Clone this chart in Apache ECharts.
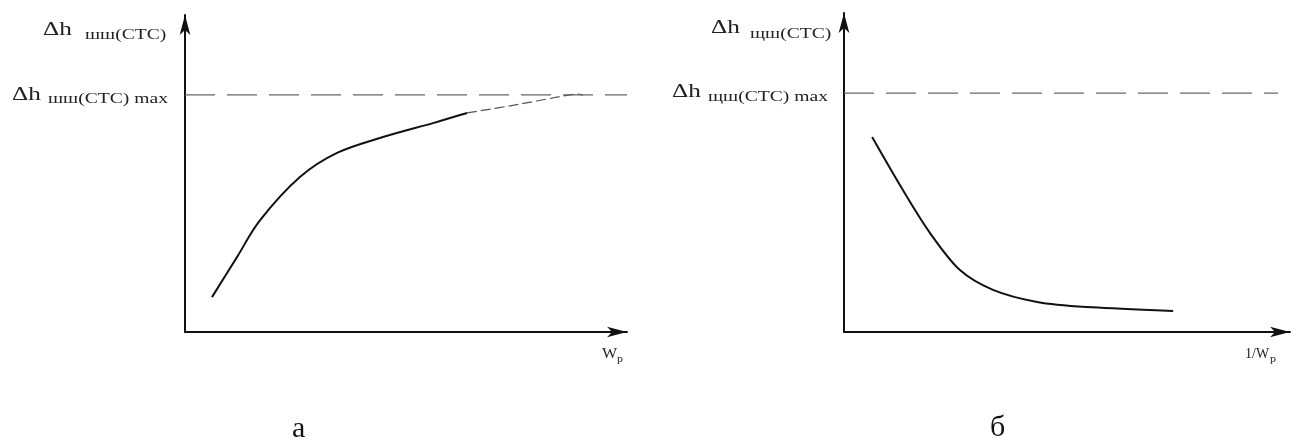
<!DOCTYPE html>
<html><head><meta charset="utf-8">
<script src="https://cdn.jsdelivr.net/npm/echarts@6/dist/echarts.min.js"></script>
<style>html,body{margin:0;padding:0;background:#fff}#c{width:1297px;height:444px}</style>
</head><body><div id="c"></div>
<script>
// Left chart (а): Δh vs Wp
const leftSolidX = [6.1, 11.8, 17.0, 26.0, 34.4, 44.8, 56.1, 63.8];
const leftSolidY = [11.0, 23.7, 35.3, 48.9, 56.5, 61.5, 65.9, 69.1];
const leftDashX = [63.8, 75.8, 87.1, 90.0];
const leftDashY = [69.1, 71.9, 74.8, 74.8];
const leftMax = 74.8;
// Right chart (б): Δh vs 1/Wp
const rightX = [6.3, 13.2, 19.3, 26.0, 33.4, 43.3, 54.5, 73.8];
const rightY = [61.1, 44.5, 31.0, 19.4, 13.2, 9.4, 7.8, 6.6];
const rightMax = 74.9;
const labels = {
  leftY: ['Δh', 'шш(СТС)'], leftMax: ['Δh', 'шш(СТС) max'], leftX: ['W', 'p'],
  rightY: ['Δh', 'щш(СТС)'], rightMax: ['Δh', 'щш(СТС) max'], rightX: ['1/W', 'p'],
  captionLeft: 'а', captionRight: 'б'
};

const zip = (xs, ys) => xs.map((x, i) => [x, ys[i]]);
const F = '"Liberation Serif", "DejaVu Serif", serif';
const axisLine = {show: true, symbol: ['none', 'arrow'], symbolSize: [8, 20], lineStyle: {color: '#111', width: 2}};
const baseAxis = {type: 'value', min: 0, max: 100, axisLine: axisLine, axisTick: {show: false}, axisLabel: {show: false}, splitLine: {show: false}};
const dashStyle = {color: '#666', width: 1.2, type: [30, 12]};

// Smooth curve through data points (Catmull-Rom), positioned by the axes via api.coord
function curveSeries(gridIdx, pts, style) {
  return {
    type: 'custom', xAxisIndex: gridIdx, yAxisIndex: gridIdx, data: [[pts[0][0], pts[0][1]]],
    renderItem: function (params, api) {
      const p = pts.map(d => api.coord(d));
      let d = 'M' + p[0][0] + ' ' + p[0][1];
      for (let i = 0; i < p.length - 1; i++) {
        const p0 = p[Math.max(i - 1, 0)], p1 = p[i], p2 = p[i + 1], p3 = p[Math.min(i + 2, p.length - 1)];
        const c1 = [p1[0] + (p2[0] - p0[0]) / 6, p1[1] + (p2[1] - p0[1]) / 6];
        const c2 = [p2[0] - (p3[0] - p1[0]) / 6, p2[1] - (p3[1] - p1[1]) / 6];
        d += ' C' + c1[0] + ' ' + c1[1] + ' ' + c2[0] + ' ' + c2[1] + ' ' + p2[0] + ' ' + p2[1];
      }
      return {type: 'path', shape: {pathData: d}, style: Object.assign({fill: 'none'}, style)};
    }
  };
}

function txt(x, y, text, size, sx, color) {
  return {type: 'text', x: x, y: y, scaleX: sx, style: {text: text, font: size + 'px ' + F, fill: color || '#222', align: 'left', verticalAlign: 'bottom'}};
}
function label(pair, xa, ya, xb, yb) {
  return [txt(xa, ya, pair[0], 18, 1.4), txt(xb, yb, pair[1], 14, 1.4)];
}

const chart = echarts.init(document.getElementById('c'), null, {renderer: 'canvas'});
chart.setOption({
  animation: false,
  backgroundColor: '#fff',
  grid: [
    {left: 185, top: 15, width: 442, height: 317},
    {left: 844, top: 13, width: 446, height: 319}
  ],
  xAxis: [Object.assign({gridIndex: 0}, baseAxis), Object.assign({gridIndex: 1}, baseAxis)],
  yAxis: [Object.assign({gridIndex: 0}, baseAxis), Object.assign({gridIndex: 1}, baseAxis)],
  series: [
    {type: 'line', xAxisIndex: 0, yAxisIndex: 0, data: [[0, leftMax], [100, leftMax]], showSymbol: false, clip: false, lineStyle: dashStyle},
    curveSeries(0, zip(leftSolidX, leftSolidY), {stroke: '#111', lineWidth: 2}),
    curveSeries(0, zip(leftDashX, leftDashY), {stroke: '#555', lineWidth: 1.2, lineDash: [10, 4]}),
    {type: 'line', xAxisIndex: 1, yAxisIndex: 1, data: [[0, rightMax], [97.3, rightMax]], showSymbol: false, clip: false, lineStyle: dashStyle},
    curveSeries(1, zip(rightX, rightY), {stroke: '#111', lineWidth: 2})
  ],
  graphic: [].concat(
    label(labels.leftY, 43, 39, 85, 42),
    label(labels.leftMax, 12, 104, 48, 106),
    label(labels.rightY, 711, 37, 750, 41),
    label(labels.rightMax, 672, 101, 708, 104),
    [
      txt(602, 361, labels.leftX[0], 14, 1.15), txt(617, 364, labels.leftX[1], 10, 1.2),
      txt(1245, 361, labels.rightX[0], 14, 1.0), txt(1270, 364, labels.rightX[1], 10, 1.2),
      {type: 'text', left: 292, top: 414, style: {text: labels.captionLeft, font: '30px ' + F, fill: '#111'}},
      {type: 'text', left: 990, top: 413, style: {text: labels.captionRight, font: '30px ' + F, fill: '#111'}}
    ]
  )
});
</script></body></html>
